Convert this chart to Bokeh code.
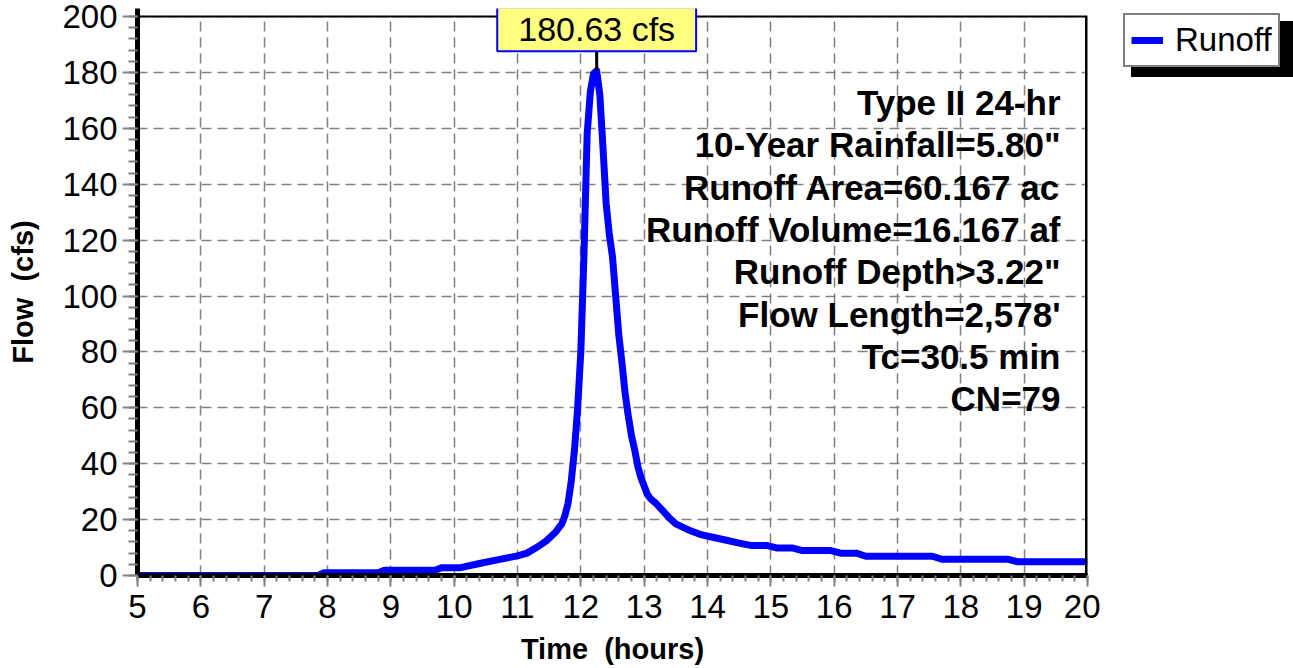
from bokeh.plotting import figure
from bokeh.layouts import row
from bokeh.models import Range1d, FixedTicker, Label, Legend, LegendItem
from bokeh.embed import file_html
from bokeh.resources import INLINE

time_hr = [5.00, 7.85, 7.95, 8.80, 8.90, 9.70, 9.80, 10.10, 10.40, 10.70, 11.00, 11.15,
           11.30, 11.45, 11.60, 11.70, 11.75, 11.80, 11.85, 11.90, 11.95, 12.00, 12.05,
           12.10, 12.15, 12.20, 12.25, 12.30, 12.35, 12.40, 12.45, 12.50, 12.55, 12.60,
           12.65, 12.70, 12.75, 12.80, 12.85, 12.90, 12.95, 13.00, 13.05, 13.10, 13.20,
           13.30, 13.40, 13.50, 13.70, 13.90, 14.10, 14.30, 14.50, 14.70, 14.95, 15.10,
           15.35, 15.50, 15.95, 16.10, 16.35, 16.50, 17.55, 17.70, 18.75, 18.90, 20.00]
flow_cfs = [0.0, 0.0, 1.0, 1.0, 1.9, 1.9, 2.8, 2.8, 4.3, 5.7, 7.0, 8.0,
            10.0, 12.3, 15.5, 18.5, 21.5, 26.0, 34.0, 45.0, 60.0, 80.0, 115.0,
            158.0, 173.0, 179.5, 180.63, 172.0, 153.0, 133.0, 122.0, 114.0, 100.0, 86.0,
            76.0, 65.0, 57.0, 50.0, 45.0, 39.0, 35.0, 32.0, 29.0, 27.5, 25.5,
            23.0, 20.5, 18.5, 16.3, 14.6, 13.6, 12.6, 11.6, 10.7, 10.7, 9.8,
            9.8, 8.9, 8.9, 8.0, 8.0, 6.9, 6.9, 5.8, 5.8, 4.9, 4.9]
series_name = "Runoff"
peak_time = 12.25
peak_flow = 180.63
peak_text = "180.63 cfs"
x_ticks = list(range(5, 21))
y_ticks = list(range(0, 201, 20))
info_lines = ["Type II 24-hr", '10-Year Rainfall=5.80"', "Runoff Area=60.167 ac",
              "Runoff Volume=16.167 af", 'Runoff Depth>3.22"', "Flow Length=2,578'",
              "Tc=30.5 min", "CN=79"]
x_title = "Time \u00a0(hours)"
y_title = "Flow \u00a0(cfs)"

GRAY = "#808080"
BLUE = "#0000FF"
H = 668
MAIN_W = 1100
LEG_W = 193
FRAME_L, FRAME_R, FRAME_B = 137, 1087, 575
PLOT_TOP = 16          # pixel row of the y-axis maximum
HEAD = 8               # extra frame room above the maximum (for the peak label)
TOP_B = PLOT_TOP - HEAD
BOT_B = H - FRAME_B

y0, y1 = y_ticks[0], y_ticks[-1]
y_end = y1 + (y1 - y0) * HEAD / (FRAME_B - PLOT_TOP)

p = figure(width=MAIN_W, height=H, output_backend="svg", toolbar_location=None,
           x_range=Range1d(x_ticks[0], x_ticks[-1]), y_range=Range1d(y0, y_end),
           min_border_left=FRAME_L, min_border_right=MAIN_W - FRAME_R,
           min_border_top=TOP_B, min_border_bottom=BOT_B,
           background_fill_color="white", border_fill_color="white")
p.outline_line_color = None

xt = FixedTicker(ticks=x_ticks, minor_ticks=[x_ticks[0] + i * 0.2 for i in range(5 * (len(x_ticks) - 1) + 1)])
yt = FixedTicker(ticks=y_ticks, minor_ticks=[i * 4 for i in range(51)])
p.xaxis.ticker = xt
p.yaxis.ticker = yt
p.xgrid.ticker = xt
p.ygrid.ticker = yt
for g in (p.xgrid, p.ygrid):
    g.grid_line_color = GRAY
    g.grid_line_dash = "10 6"
    g.grid_line_width = 1.5

for ax in (p.xaxis, p.yaxis):
    ax.axis_line_color = "black"
    ax.axis_line_width = 5
    ax.major_tick_line_color = GRAY
    ax.major_tick_line_width = 2
    ax.minor_tick_line_color = GRAY
    ax.minor_tick_line_width = 2
    ax.major_tick_in = 0
    ax.minor_tick_in = 0
    ax.major_label_text_font = "Liberation Sans"
    ax.major_label_text_font_size = "33px"
    ax.major_label_text_color = "black"
    ax.axis_label_text_font = "Liberation Sans"
    ax.axis_label_text_font_style = "bold"
    ax.axis_label_text_font_size = "29px"
    ax.axis_label_text_color = "black"
p.xaxis.major_tick_out = 11
p.xaxis.minor_tick_out = 6
p.xaxis.major_label_standoff = 8
p.xaxis.axis_label = x_title
p.xaxis.axis_label_standoff = 12
p.yaxis.major_tick_out = 15
p.yaxis.minor_tick_out = 9
p.yaxis.major_label_standoff = 5
p.yaxis.axis_label = y_title
p.yaxis.axis_label_standoff = 20

# white strip above the chart top (hides the grid head room)
p.quad(left=[x_ticks[0]], right=[x_ticks[-1]], bottom=[y1], top=[y_end],
       fill_color="white", line_color=None)

r = p.line(time_hr, flow_cfs, line_color=BLUE, line_width=7, line_join="round")

# top and right borders of the chart box
p.segment(x0=[x_ticks[0], x_ticks[-1]], y0=[y1, y0], x1=[x_ticks[-1], x_ticks[-1]], y1=[y1, y1],
          line_color="black", line_width=[2, 5])

# peak marker
p.segment(x0=[peak_time], y0=[peak_flow], x1=[peak_time], y1=[y1],
          line_color="black", line_width=3)
p.add_layout(Label(x=peak_time, y=peak_flow, y_offset=41.5, text=peak_text,
                   text_align="center", text_baseline="middle",
                   text_font="Liberation Sans", text_font_size="34px", text_color="black",
                   background_fill_color="#FFFF80", background_fill_alpha=1.0,
                   border_line_color=BLUE, border_line_width=2, padding=(21, 3)))

# info block
for i, t in enumerate(info_lines):
    p.add_layout(Label(x=x_ticks[-1], y=y1, x_offset=-27, y_offset=-86 - i * 42.3,
                       text=t, text_align="right", text_baseline="middle",
                       text_font="Liberation Sans", text_font_style="bold",
                       text_font_size="35px", text_color="black"))

# ---- legend panel (separate small figure to the right, same top/bottom borders) ----
LEG_L, LEG_T, SHADOW = 1123 - MAIN_W, 13, 8
q = figure(width=LEG_W, height=H, output_backend="svg", toolbar_location=None,
           x_range=Range1d(0, 1), y_range=Range1d(0, 1),
           x_axis_type=None, y_axis_type=None,
           min_border_left=LEG_L - (LEG_T - TOP_B), min_border_top=TOP_B,
           min_border_right=0, min_border_bottom=BOT_B,
           background_fill_color="white", border_fill_color="white")
q.outline_line_color = None
q.grid.visible = False

# off-range helper renderers (only used to draw the legend glyphs)
shadow_r = q.line(x=[-2, -1], y=[-2, -1], line_alpha=0)
main_r = q.line(x=[-2, -1], y=[-2, -1], line_color=BLUE, line_width=7)

shadow = Legend(items=[LegendItem(label=" ", renderers=[shadow_r])],
                location="top_left", margin=LEG_T - TOP_B + SHADOW, padding=6, spacing=0,
                glyph_width=118, glyph_height=40, label_height=40, label_standoff=14,
                label_text_font="Liberation Sans", label_text_font_size="33px",
                label_text_color="black", border_line_color="black", border_line_width=2,
                background_fill_color="black", background_fill_alpha=1.0)
legend = Legend(items=[LegendItem(label=series_name, renderers=[main_r])],
                location="top_left", margin=LEG_T - TOP_B, padding=6, spacing=0,
                glyph_width=32, glyph_height=30, label_height=30, label_standoff=12,
                label_text_font="Liberation Sans", label_text_font_size="33px",
                label_text_color="black", border_line_color="black", border_line_width=2,
                background_fill_color="white", background_fill_alpha=1.0)
q.add_layout(shadow, "center")
q.add_layout(legend, "center")

layout = row(p, q, spacing=0)
open("out.html", "w").write(file_html(layout, INLINE))
